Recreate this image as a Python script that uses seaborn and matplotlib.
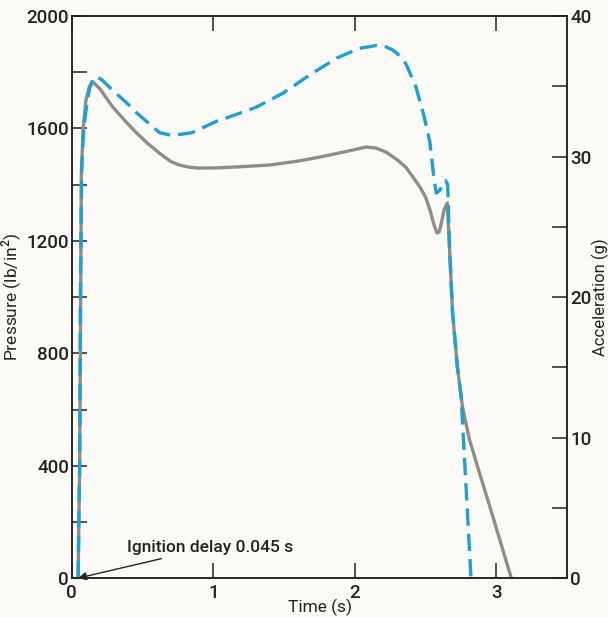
import pandas as pd
import seaborn as sns
import matplotlib.pyplot as plt

# pressure trace (lb/in^2)
p_time = [0.045, 0.050, 0.056, 0.062, 0.068, 0.08, 0.10, 0.125, 0.15, 0.20, 0.29, 0.38, 0.46,
          0.54, 0.62, 0.70, 0.76, 0.83, 0.90, 1.04, 1.20, 1.40, 1.60, 1.75, 1.92, 2.08, 2.15,
          2.22, 2.30, 2.36, 2.42, 2.46, 2.50, 2.53, 2.56, 2.58, 2.595, 2.61, 2.63, 2.653,
          2.668, 2.69, 2.724, 2.76, 2.81, 2.88, 2.95, 3.02, 3.06, 3.105]
pressure = [0, 200, 400, 900, 1441, 1594, 1700, 1750, 1766, 1740, 1676, 1625, 1583,
            1545, 1512, 1482, 1470, 1462, 1459, 1460, 1464, 1470, 1484, 1498, 1516, 1534, 1530,
            1516, 1488, 1462, 1420, 1391, 1355, 1310, 1255, 1228, 1232, 1262, 1310, 1335,
            1178, 943, 751, 609, 491, 374, 260, 142, 75, 0]

# acceleration trace (g)
a_time = [0.045, 0.050, 0.056, 0.061, 0.07, 0.08, 0.092, 0.11, 0.127, 0.15, 0.174, 0.22, 0.29,
          0.38, 0.46, 0.54, 0.62, 0.71, 0.85, 1.02, 1.08, 1.30, 1.49, 1.68, 1.87, 2.03, 2.15,
          2.21, 2.265, 2.32, 2.36, 2.43, 2.49, 2.53, 2.56, 2.575, 2.60, 2.62, 2.64, 2.655,
          2.66, 2.668, 2.69, 2.724, 2.75, 2.785, 2.82]
accel = [0, 4, 8, 20, 29, 31.2, 32.6, 34.0, 34.9, 35.5, 35.7, 35.4, 34.7,
         33.9, 33.1, 32.4, 31.7, 31.5, 31.7, 32.5, 32.7, 33.5, 34.5, 35.8, 37.0, 37.7, 37.9,
         37.85, 37.6, 37.15, 36.6, 35.0, 32.8, 31.0, 28.3, 27.4, 27.6, 28.0, 28.3, 28.0,
         26.5, 23.6, 18.9, 15.0, 13.0, 6.5, 0]

x_ticks = [0, 1, 2, 3]
p_ticks = [0, 400, 800, 1200, 1600, 2000]
p_minor = [200, 600, 1000, 1400, 1800]
a_ticks = [0, 10, 20, 30, 40]
a_minor = [5, 15, 25, 35]

sns.set_style('ticks')
plt.rcParams['font.family'] = ['Roboto', 'Liberation Sans', 'DejaVu Sans']
plt.rcParams['font.weight'] = 'medium'
plt.rcParams['mathtext.fontset'] = 'custom'
plt.rcParams['mathtext.rm'] = 'Roboto:medium'

bg = '#fbfaf7'
ink = '#222222'
fig = plt.figure(figsize=(6.08, 6.17), dpi=100, facecolor=bg)
ax = fig.add_axes([0.118, 0.063, 0.815, 0.911])
ax.set_facecolor(bg)
ax2 = ax.twinx()

df_p = pd.DataFrame({'time': p_time, 'pressure': pressure})
df_a = pd.DataFrame({'time': a_time, 'accel': accel})

sns.lineplot(df_p, x='time', y='pressure', ax=ax, color='#8f8d88', linewidth=2.4,
             errorbar=None, sort=False)
sns.lineplot(df_a, x='time', y='accel', ax=ax2, color='#1ea0d2', linewidth=2.4,
             linestyle=(0, (5.2, 2.4)), errorbar=None, sort=False)

ax.set_xlim(0, 3.5)
ax.set_ylim(0, 2000)
ax2.set_ylim(0, 40)

ax.set_xticks(x_ticks)
ax.set_yticks(p_ticks)
ax.set_yticks(p_minor, minor=True)
ax2.set_yticks(a_ticks)
ax2.set_yticks(a_minor, minor=True)

for a in (ax, ax2):
    for s in a.spines.values():
        s.set_linewidth(1.1)
        s.set_color(ink)
    a.tick_params(which='both', direction='in', length=11, width=1.1, color=ink,
                  labelsize=13.5, pad=2, labelcolor=ink)
ax.tick_params(axis='x', top=True, pad=4)
ax2.tick_params(axis='y', labelright=True)

ax.set_xlabel('Time (s)', fontsize=12.5, labelpad=-2, color=ink)
ax.set_ylabel(r'Pressure (lb/in$^2$)', fontsize=12.5, labelpad=2, color=ink)
ax2.set_ylabel('Acceleration (g)', fontsize=12, labelpad=0, color=ink)

ax.annotate('Ignition delay 0.045 s', xy=(0.045, 0), xytext=(0.39, 110),
            fontsize=12.5, va='center', ha='left', color=ink,
            arrowprops=dict(arrowstyle='-|>', color=ink, lw=1.0,
                            mutation_scale=12, shrinkA=2, shrinkB=0))

plt.savefig('out.png', dpi=100, facecolor=bg)
